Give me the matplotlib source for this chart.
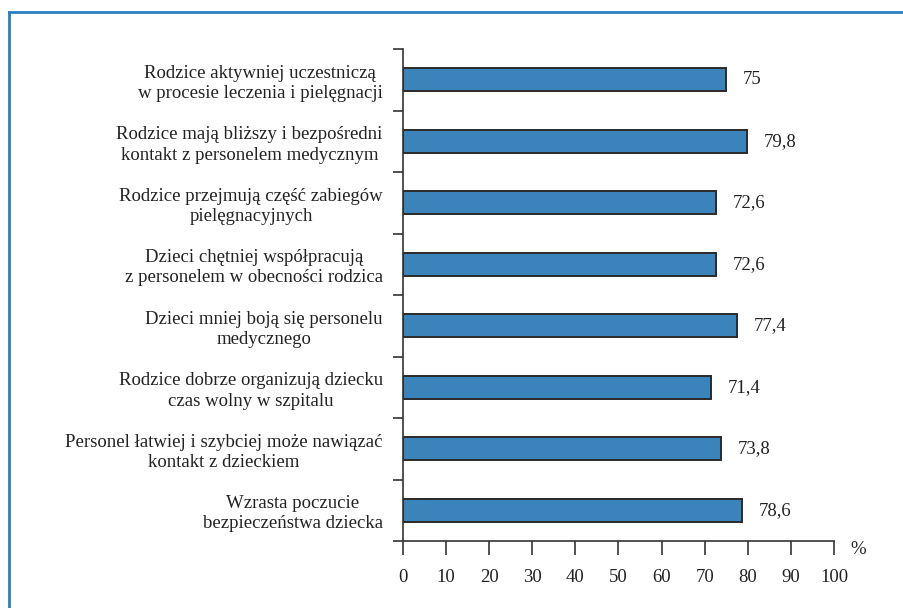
import matplotlib
matplotlib.use("Agg")
import matplotlib.pyplot as plt
from matplotlib.lines import Line2D
from matplotlib.ticker import FixedLocator

categories = [
    "Rodzice aktywniej uczestniczą\nw procesie leczenia i pielęgnacji",
    "Rodzice mają bliższy i bezpośredni\nkontakt z personelem medycznym",
    "Rodzice przejmują część zabiegów\npielęgnacyjnych",
    "Dzieci chętniej współpracują\nz personelem w obecności rodzica",
    "Dzieci mniej boją się personelu\nmedycznego",
    "Rodzice dobrze organizują dziecku\nczas wolny w szpitalu",
    "Personel łatwiej i szybciej może nawiązać\nkontakt z dzieckiem",
    "Wzrasta poczucie\nbezpieczeństwa dziecka",
]
values = [75, 79.8, 72.6, 72.6, 77.4, 71.4, 73.8, 78.6]
xticks = [0, 10, 20, 30, 40, 50, 60, 70, 80, 90, 100]

plt.rcParams['font.family'] = ['Liberation Serif', 'DejaVu Serif']
FS = 13.5
DARK = '#333333'
TXT = '#222222'

fig = plt.figure(figsize=(9.04, 6.08), dpi=100)
fig.patch.set_facecolor('white')

# frame lines (blue border)
fig.add_artist(Line2D([8.5/904, 8.5/904], [0, 1 - 12/608], transform=fig.transFigure,
                      color='#2b7fc1', lw=2))
fig.add_artist(Line2D([8.5/904, 1], [1 - 12/608, 1 - 12/608], transform=fig.transFigure,
                      color='#2b7fc1', lw=2))

ax = fig.add_axes([403/904, 67/608, 431/904, 492/608])
n = len(categories)
ypos = list(range(n))
ax.barh(ypos, values, height=0.38, color='#3b83bb', edgecolor='#2a2a2a', linewidth=1.4, zorder=3)
ax.set_ylim(n - 0.5, -0.5)
ax.set_xlim(0, 100)

# category labels
ax.set_yticks(ypos)
ax.set_yticklabels(categories, fontsize=FS, color=TXT, linespacing=1.25,
                   multialignment='center')
ax.tick_params(axis='y', which='major', length=0, pad=14.5)
ax.yaxis.set_minor_locator(FixedLocator([i - 0.5 for i in range(n + 1)]))
ax.tick_params(axis='y', which='minor', length=7, width=1.2, color=DARK, direction='out')

ax.set_xticks(xticks)
ax.set_xticklabels([str(t) for t in xticks], fontsize=FS, color=TXT)
ax.tick_params(axis='x', length=10, width=1.2, color=DARK, direction='out', pad=10)

for s in ['top', 'right']:
    ax.spines[s].set_visible(False)
for s in ['left', 'bottom']:
    ax.spines[s].set_color(DARK)
    ax.spines[s].set_linewidth(1.2)

for y, v in zip(ypos, values):
    ax.annotate(f"{v:g}".replace('.', ','), xy=(v, y), xytext=(12, 0),
                textcoords='offset points', va='center', ha='left',
                fontsize=FS, color=TXT)

ax.annotate('%', xy=(1, 0), xycoords='axes fraction', xytext=(12, -6),
            textcoords='offset points', va='center', ha='left', fontsize=FS, color=TXT)

fig.savefig('out.png', dpi=100, facecolor='white')
